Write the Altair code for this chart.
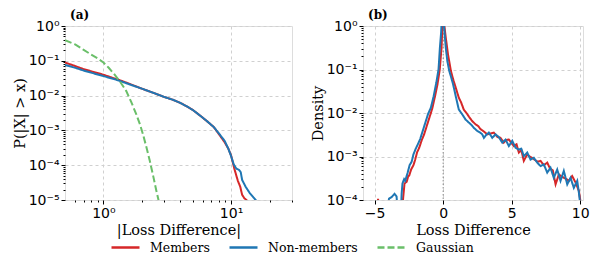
import altair as alt
import pandas as pd

series_names = ["Members", "Non-members", "Gaussian"]
series_colors = ["#d62728", "#1f77b4", "#6abf69"]
series_dash = [[1, 0], [1, 0], [7, 3]]

# ---------------- Panel (a): P(|X| > x), log10 of probability ----------------
a_members_x = [0.5, 0.6, 0.7, 0.8, 1.0, 1.2, 1.4, 1.7, 2.0, 2.5, 3.0, 3.5, 4.0, 4.5, 5.0,
               5.7, 6.5, 7.3, 8.0, 8.9, 9.5, 10.0, 10.6, 11.3, 11.8, 12.2, 12.7, 13.2, 13.6]
a_members_lg = [-1.05, -1.15, -1.24, -1.30, -1.40, -1.50, -1.58, -1.70, -1.80, -1.93, -2.04, -2.12,
                -2.21, -2.31, -2.41, -2.57, -2.74, -2.90, -3.10, -3.34, -3.52, -3.72, -4.10, -4.45,
                -4.62, -4.85, -4.95, -5.0, -5.1]

a_nonmembers_x = [0.5, 0.6, 0.7, 0.8, 1.0, 1.2, 1.4, 1.7, 2.0, 2.5, 3.0, 3.5, 4.0, 4.5, 5.0,
                  5.7, 6.5, 7.3, 8.0, 8.9, 9.5, 10.0, 10.5, 11.0, 11.5, 11.9, 12.2, 13.0, 14.0,
                  15.0, 16.0]
a_nonmembers_lg = [-1.12, -1.20, -1.28, -1.34, -1.44, -1.52, -1.60, -1.71, -1.80, -1.93, -2.04,
                   -2.12, -2.21, -2.31, -2.41, -2.57, -2.74, -2.90, -3.08, -3.30, -3.52, -3.74,
                   -3.98, -4.10, -4.13, -4.20, -4.42, -4.62, -4.80, -4.93, -5.05]

a_gauss_x = [0.5, 0.6, 0.69, 0.8, 0.9, 1.0, 1.1, 1.22, 1.35, 1.51, 1.65, 1.81, 1.93, 2.04, 2.17,
             2.31, 2.45, 2.6, 2.7, 2.8]
a_gauss_lg = [-0.41, -0.53, -0.67, -0.82, -0.93, -1.05, -1.20, -1.39, -1.60, -1.87, -2.18, -2.54,
              -2.82, -3.11, -3.48, -3.88, -4.30, -4.74, -5.0, -5.3]

# ---------------- Panel (b): density of loss difference, log10 of density -------------
b_members_x = [-4.85, -4.75, -4.65, -3.05, -2.92, -2.82, -2.66, -2.55, -2.48, -2.34, -2.17,
               -2.05, -1.9, -1.75, -1.56, -1.4, -1.2, -1.0, -0.8, -0.6, -0.42, -0.25, -0.12,
               -0.02, 0.05, 0.19, 0.35, 0.56, 0.75, 0.9, 1.14, 1.3, 1.5, 1.7, 1.87, 2.1, 2.36,
               2.55, 2.72, 2.95, 3.21, 3.45, 3.69, 3.95, 4.18, 4.42, 4.6, 4.79, 5.0, 5.15, 5.35,
               5.52, 5.7, 5.88, 6.13, 6.3, 6.49, 6.7, 6.9, 7.1, 7.35, 7.59, 7.8, 8.0, 8.2, 8.44,
               8.6, 8.8, 9.0, 9.17, 9.41, 9.66, 9.9, 10.05, 10.15]
b_members_lg = [-4.5, -3.97, -4.5, -4.5, -3.95, -3.62, -3.58, -3.45, -3.44, -3.3, -3.2, -3.08,
                -2.9, -2.8, -2.62, -2.5, -2.3, -2.1, -1.9, -1.62, -1.35, -1.0, -0.5, 0.3, 0.1,
                -0.27, -0.65, -1.03, -1.25, -1.4, -1.65, -1.75, -1.92, -2.0, -2.08, -2.18, -2.26,
                -2.3, -2.37, -2.42, -2.49, -2.47, -2.45, -2.55, -2.57, -2.68, -2.62, -2.61, -2.7,
                -2.76, -2.72, -2.91, -2.85, -3.10, -2.95, -3.0, -3.03, -3.08, -3.12, -3.1, -3.2,
                -3.14, -3.28, -3.32, -3.64, -3.41, -3.45, -3.49, -3.52, -3.56, -3.45, -3.6, -3.79,
                -4.1, -4.5]

b_nonmembers_x = [-4.2, -3.95, -3.75, -3.55, -3.4, -3.3, -3.1, -3.03, -2.97, -2.85, -2.77, -2.6,
                  -2.45, -2.3, -2.17, -2.0, -1.85, -1.68, -1.5, -1.3, -1.1, -0.9, -0.7, -0.5,
                  -0.34, -0.24, -0.15, -0.08, 0.0, 0.07, 0.19, 0.3, 0.44, 0.6, 0.73, 0.97, 1.14,
                  1.39, 1.63, 1.87, 2.05, 2.23, 2.48, 2.7, 2.85, 2.97, 3.15, 3.33, 3.58, 3.82,
                  4.05, 4.31, 4.55, 4.79, 5.04, 5.28, 5.52, 5.7, 5.88, 6.13, 6.37, 6.61, 6.86,
                  7.1, 7.34, 7.59, 7.83, 8.07, 8.32, 8.56, 8.8, 9.05, 9.29, 9.53, 9.78, 9.9,
                  10.0, 10.1]
b_nonmembers_lg = [-4.4, -3.97, -3.93, -3.86, -3.92, -4.4, -4.4, -3.85, -3.62, -3.52, -3.56,
                   -3.38, -3.2, -3.12, -2.95, -2.82, -2.72, -2.6, -2.42, -2.22, -2.02, -1.88,
                   -1.62, -1.3, -1.0, -0.5, -0.15, 0.3, 0.3, -0.04, -0.5, -0.8, -1.03, -1.2,
                   -1.35, -1.69, -1.92, -2.03, -2.15, -2.22, -2.27, -2.34, -2.41, -2.45, -2.49,
                   -2.57, -2.5, -2.45, -2.57, -2.49, -2.55, -2.68, -2.61, -2.76, -2.64, -2.80,
                   -2.84, -2.82, -2.99, -2.91, -3.07, -3.03, -3.14, -3.22, -3.18, -3.37, -3.26,
                   -3.49, -3.30, -3.56, -3.33, -3.64, -3.49, -3.72, -3.56, -3.83, -4.1, -4.5]

zero_line = [0.0]


def frame(xs, lgs, name):
    return pd.DataFrame({"x": xs, "y": [10.0 ** v for v in lgs], "series": name})


df_a = pd.concat([
    frame(a_members_x, a_members_lg, "Members"),
    frame(a_nonmembers_x, a_nonmembers_lg, "Non-members"),
    frame(a_gauss_x, a_gauss_lg, "Gaussian"),
])
df_b = pd.concat([
    frame(b_members_x, b_members_lg, "Members"),
    frame(b_nonmembers_x, b_nonmembers_lg, "Non-members"),
])

SUP = {"-": "\u207b", "0": "\u2070", "1": "\u00b9", "2": "\u00b2", "3": "\u00b3",
       "4": "\u2074", "5": "\u2075", "6": "\u2076", "7": "\u2077", "8": "\u2078", "9": "\u2079"}

LOGV = "(log(datum.value)/LN10)"
MAJOR = f"abs({LOGV} - round({LOGV})) < 0.001"


def log_label_expr(exps):
    chain = "''"
    for k in exps:
        s = "10" + "".join(SUP[c] for c in str(k))
        chain = f"round({LOGV}) == {k} ? '{s}' : ({chain})"
    return f"{MAJOR} ? ({chain}) : ''"


common_axis = dict(
    tickColor="black", labelFont="DejaVu Sans", labelFontSize=14, labelColor="black",
    titleFont="DejaVu Serif", titleFontSize=14.5, titleFontWeight="normal", titleColor="black",
    domain=False, labelFlush=False, labelOverlap=False, gridColor="#d0d0d0", gridDash=[3, 3],
    labelPadding=2,
)


def log_axis(values, exps, title, title_padding):
    return alt.Axis(
        values=values, labelExpr=log_label_expr(exps), title=title, grid=True,
        gridOpacity={"condition": {"test": MAJOR, "value": 1}, "value": 0},
        tickSize={"condition": {"test": MAJOR, "value": 4}, "value": 2},
        titlePadding=title_padding,
        **common_axis,
    )


def minor_log_values(k0, k1, lo, hi):
    vals = []
    for k in range(k0, k1 + 1):
        for m in range(1, 10):
            v = m * 10.0 ** k
            if lo * 0.999 <= v <= hi * 1.001:
                vals.append(v)
    return vals


color_scale = alt.Scale(domain=series_names, range=series_colors)
dash_scale = alt.Scale(domain=series_names, range=series_dash)

legend = alt.Legend(title=None, orient="none", legendX=45, legendY=206, direction="horizontal",
                    columns=3, gridAlign="none", symbolType="stroke", symbolSize=784,
                    symbolStrokeWidth=2.5, labelFont="DejaVu Serif", labelFontSize=12.5,
                    labelColor="black", labelOffset=9, columnPadding=14)

title_style = dict(anchor="start", font="DejaVu Serif", fontSize=12, fontWeight="bold",
                   color="black", dx=5, offset=-3, frame="group")

# ---- panel (a)
a_x_vals = minor_log_values(-1, 1, 0.6, 30)
a_y_vals = minor_log_values(-5, 0, 1e-5, 1)
panel_a = alt.Chart(df_a).mark_line(clip=True, strokeWidth=2).encode(
    x=alt.X("x:Q", scale=alt.Scale(type="log", domain=[0.5, 30], nice=False),
            axis=log_axis(a_x_vals, [0, 1], "|Loss Difference|", 3)),
    y=alt.Y("y:Q", scale=alt.Scale(type="log", domain=[1e-5, 1], nice=False),
            axis=log_axis(a_y_vals, [-5, -4, -3, -2, -1, 0], "P(|X| > x)", 1)),
    color=alt.Color("series:N", scale=color_scale, legend=legend),
    strokeDash=alt.StrokeDash("series:N", scale=dash_scale, legend=legend),
).properties(width=227, height=174, title=alt.TitleParams("(a)", **title_style))

# ---- panel (b)
b_y_vals = minor_log_values(-4, 0, 1e-4, 1)
b_lines = alt.Chart(df_b).mark_line(clip=True, strokeWidth=2).encode(
    x=alt.X("x:Q", scale=alt.Scale(domain=[-5.85, 10.2], nice=False, zero=False),
            axis=alt.Axis(values=[-5, 0, 5, 10], title="Loss Difference", grid=True,
                          tickSize=4, titlePadding=3, **common_axis)),
    y=alt.Y("y:Q", scale=alt.Scale(type="log", domain=[1e-4, 1], nice=False),
            axis=log_axis(b_y_vals, [-4, -3, -2, -1, 0], "Density", 1)),
    color=alt.Color("series:N", scale=color_scale, legend=legend),
    strokeDash=alt.StrokeDash("series:N", scale=dash_scale, legend=legend),
)
b_zero = alt.Chart(pd.DataFrame({"x": zero_line})).mark_rule(
    color="#888888", strokeDash=[1.5, 2], strokeWidth=1).encode(x="x:Q")
panel_b = alt.layer(b_zero, b_lines).properties(
    width=220, height=174, title=alt.TitleParams("(b)", **title_style))

chart = alt.hconcat(panel_a, panel_b, spacing=16).properties(
    padding={"left": 3, "top": 0, "right": 0, "bottom": 0}
).configure_view(stroke="#333333", strokeWidth=1).configure(background="white")

chart.save("out.html", embed_options={"renderer": "svg", "actions": False})
